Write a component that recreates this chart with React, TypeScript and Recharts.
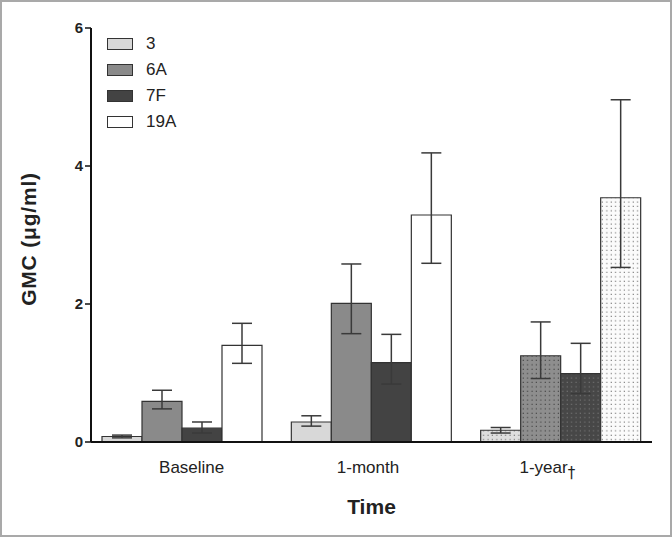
import React from 'react';
import { BarChart, Bar, XAxis, YAxis, ErrorBar, Cell, Label } from 'recharts';

const categories = ['Baseline', '1-month', '1-year'];
const seriesNames = ['3', '6A', '7F', '19A'];

const gmc3 = [0.08, 0.29, 0.17];
const low3 = [0.06, 0.23, 0.13];
const high3 = [0.10, 0.38, 0.21];

const gmc6A = [0.59, 2.01, 1.25];
const low6A = [0.48, 1.57, 0.92];
const high6A = [0.75, 2.58, 1.74];

const gmc7F = [0.2, 1.15, 0.99];
const low7F = [0.13, 0.84, 0.70];
const high7F = [0.29, 1.56, 1.43];

const gmc19A = [1.4, 3.29, 3.54];
const low19A = [1.14, 2.59, 2.53];
const high19A = [1.72, 4.19, 4.96];

const yTicks = [0, 2, 4, 6];

const values = [gmc3, gmc6A, gmc7F, gmc19A];
const lows = [low3, low6A, low7F, low19A];
const highs = [high3, high6A, high7F, high19A];

const data = categories.map((c, i) => {
  const row: any = { name: c };
  seriesNames.forEach((s, k) => {
    row['v' + s] = values[k][i];
    row['e' + s] = [values[k][i] - lows[k][i], highs[k][i] - values[k][i]];
  });
  return row;
});

const fills = ['#d8d8d8', '#8a8a8a', '#434343', '#ffffff'];
const dotBg = ['#dedede', '#8e8e8e', '#474747', '#fbfbfb'];
const dotFg = ['#6a6a6a', '#3a3a3a', '#7a7a7a', '#6a6a6a'];

const FONT = '"Liberation Sans", Arial, Helvetica, sans-serif';

const labelShift = [10, -3, -13];

const XTick = (props: any) => {
  const { x, y, payload, index } = props;
  const isYear = payload.value === '1-year';
  return (
    <text x={x + (labelShift[index] || 0)} y={y} dy={31} textAnchor="middle" fontFamily={FONT} fontSize={17} fill="#222">
      {payload.value}
      {isYear ? <tspan fontSize={15} dy={5} fill="#222" fontFamily='"DejaVu Sans", sans-serif'>†</tspan> : null}
    </text>
  );
};

const LegendBox = () => (
  <div style={{ position: 'absolute', left: 105, top: 29, fontFamily: FONT, fontSize: 17, color: '#222' }}>
    {seriesNames.map((s, k) => (
      <div key={s} style={{ display: 'flex', alignItems: 'center', height: 26 }}>
        <div style={{ width: 24, height: 10, border: '1px solid #333', background: fills[k], boxSizing: 'content-box' }} />
        <span style={{ marginLeft: 13 }}>{s}</span>
      </div>
    ))}
  </div>
);

export default function App() {
  return (
    <div style={{ position: 'absolute', left: 0, top: 0, width: 672, height: 537, boxSizing: 'border-box', border: '2px solid #a9a9a9', background: '#fff' }}>
      <div style={{ position: 'relative', width: 668, height: 533 }}>
        <BarChart width={668} height={533} data={data} margin={{ top: 26, right: 18, left: 0, bottom: 0 }} barGap={0} barSize={40}>
          <defs>
            {seriesNames.map((s, k) => (
              <pattern key={s} id={'dots' + k} patternUnits="userSpaceOnUse" width={4.4} height={4.4}>
                <rect x={0} y={0} width={4.4} height={4.4} fill={dotBg[k]} />
                <rect x={1.5} y={1.5} width={1.1} height={1.1} fill={dotFg[k]} />
              </pattern>
            ))}
          </defs>
          <XAxis dataKey="name" height={93} padding={{ left: -4, right: -3 }} tickLine={false} tickSize={0} tickMargin={0} axisLine={{ stroke: '#111', strokeWidth: 2 }} tick={<XTick />} interval={0}>
            <Label content={(p: any) => {
              const vb = p.viewBox;
              return <text x={vb.x + vb.width / 2} y={512} textAnchor="middle" fontFamily={FONT} fontSize={21} fontWeight="bold" fill="#222">Time</text>;
            }} />
          </XAxis>
          <YAxis width={89} domain={[0, 6]} ticks={yTicks} interval={0} tickSize={6} axisLine={{ stroke: '#111', strokeWidth: 2 }} tickLine={{ stroke: '#111', strokeWidth: 1.5 }} tick={{ fontFamily: FONT, fontSize: 15, fontWeight: 'bold', fill: '#222' }}>
            <Label content={(p: any) => {
              const vb = p.viewBox;
              const cx = 26;
              const cy = vb.y + vb.height / 2 + 4;
              return <text x={cx} y={cy} transform={`rotate(-90 ${cx} ${cy})`} textAnchor="middle" dominantBaseline="central" fontFamily={FONT} fontSize={21} fontWeight="bold" letterSpacing={0.8} fill="#222">GMC (μg/ml)</text>;
            }} />
          </YAxis>
          {seriesNames.map((s, k) => (
            <Bar key={s} dataKey={'v' + s} fill={fills[k]} stroke="#333" strokeWidth={1.2} isAnimationActive={false}>
              {categories.map((c, i) => (
                <Cell key={c} fill={i === 2 ? `url(#dots${k})` : fills[k]} />
              ))}
              <ErrorBar dataKey={'e' + s} width={10} stroke="#3a3a3a" strokeWidth={1.5} />
            </Bar>
          ))}
        </BarChart>
        <LegendBox />
      </div>
    </div>
  );
}
